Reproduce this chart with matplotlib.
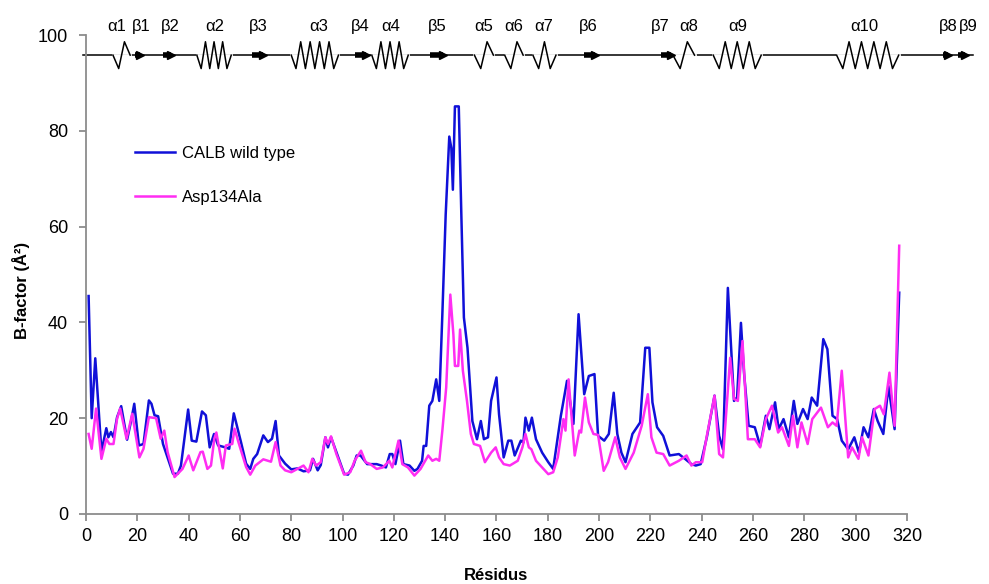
import numpy as np
import matplotlib
matplotlib.use('Agg')
import matplotlib.pyplot as plt

plt.rcParams['font.family'] = ['Liberation Sans', 'DejaVu Sans']

# B-factor per residue
res_wt = [1, 2.2, 3.6, 6, 7.9, 8.7, 9.7, 10.7, 12.1, 13.7, 16, 17.6, 18.8, 20.6, 22.4,
          24.5, 25.5, 26.7, 28.1, 30, 33.9, 35.8, 37, 39.8, 41.2, 43, 45.2, 46.7, 48.2,
          49.9, 51.5, 54.3, 55.8, 57.6, 59.4, 60.4, 62.4, 64, 65.2, 66.7, 69.1, 70.9,
          72.5, 73.9, 75.2, 77.6, 80, 82.4, 84.8, 87.3, 88.5, 90.3, 91.5, 93.3, 94.3,
          95.5, 97.6, 100.6, 102.1, 104.2, 105.5, 107, 108, 109.6, 113.3, 115.1, 116.9,
          118.4, 119.4, 120.6, 122.4, 123.7, 126.1, 128, 129.2, 131, 131.6, 132.6, 133.8,
          135, 136.5, 137.7, 138.9, 140.2, 141.6, 142.4, 143, 143.8, 145.3, 146.3, 147.3,
          148.7, 150.6, 152.4, 153.9, 155.1, 156.7, 157.9, 160, 161, 162.8, 164.6, 165.8,
          167.1, 169.5, 170.5, 171.3, 172.6, 173.8, 175.4, 177.8, 180.2, 182.1, 185.1,
          187.5, 190, 192, 194.2, 196, 198.2, 199.6, 202, 203.8, 205.7, 207.1, 208.7,
          210.3, 213, 216, 218, 219.6, 220.8, 222.6, 225, 227.5, 231.1, 233.5, 236, 237.7,
          239.6, 242, 245, 246.8, 248.3, 250.2, 252.6, 253.8, 255.3, 256.5, 258.3, 260.7,
          262.8, 265, 266.4, 268.6, 270, 271.9, 274, 275.9, 277.3, 279.5, 281.3, 282.9,
          285, 287.4, 289, 291, 292.8, 294.6, 297.1, 299.5, 301.3, 303.1, 305, 307.1,
          308.6, 310.8, 312.8, 315.2, 317]
bf_wt = [45.5, 20, 32.5, 13, 17.9, 16, 17.1, 16, 20.2, 22.5, 15.5, 19.5, 23, 14.3, 14.6,
         23.7, 23, 20.6, 20.4, 14.6, 8.4, 8.4, 10.1, 21.8, 15.3, 15.1, 21.4, 20.6, 13.9,
         16.7, 14.3, 13.9, 13.6, 21, 17.1, 15, 10.5, 9.4, 11.5, 12.5, 16.4, 15,
         15.7, 19.4, 12.2, 10.5, 9.3, 9.5, 8.9, 9.1, 11.5, 9.1, 10.2, 16, 13.9,
         16, 12.9, 8.4, 8.2, 10.1, 12.2, 12.2, 11.5, 10.4, 10.4, 10.1, 9.7,
         12.5, 12.5, 10.4, 15.3, 10.4, 10.1, 9, 9.4, 11.1, 14.2, 14.2, 22.6,
         23.6, 28.1, 23.6, 41.7, 62.5, 78.8, 76.4, 67.7, 85.1, 85.1, 62.5, 41,
         34.7, 19.4, 15.6, 19.4, 15.6, 16, 23.6, 28.5, 20.8, 11.8, 15.3, 15.3,
         12.2, 15.3, 14.9, 20.1, 17.4, 20.1, 15.6, 12.8, 10.8, 9.4, 20.5,
         27.8, 18.8, 41.7, 25, 28.8, 29.2, 16.3, 15.3, 16.7, 25.3, 16.7, 12.8,
         10.8, 16.7, 19.1, 34.7, 34.7, 23.3, 18.1, 16.3, 12.2, 12.5, 11.5, 10.4, 10.1,
         10.4, 16, 24.7, 16.3, 13.5, 47.2, 23.6, 24.3, 39.9, 29.5, 18.4, 18.1,
         14.2, 20.5, 17.7, 23.3, 17.7, 19.8, 16, 23.6, 18.8, 21.9, 19.8, 24.3,
         22.6, 36.5, 34.4, 20.5, 19.8, 15.3, 13.5, 16, 12.8, 18.1, 16, 21.9,
         19.4, 16.7, 26.7, 17.7, 46.2]

res_mut = [1, 2.2, 3.9, 6, 7.9, 9.1, 10.7, 12.1, 13.3, 15.8, 18, 20.8, 22.4, 24.5, 27.3,
           29.1, 30.5, 31.8, 34.5, 37.6, 40, 41.8, 44.6, 45.5, 47.3, 48.7, 50, 50.8, 53.3,
           54.5, 57, 57.9, 59.4, 62.4, 64, 66, 69.1, 72.1, 73.9, 75.8, 77.6, 80, 82.4,
           84.8, 86.7, 88.2, 89.7, 91.5, 93.3, 94.3, 95.5, 97.6, 100.6, 103, 104.7, 107.2,
           109, 110.8, 113.3, 115.7, 118.2, 119.4, 121.8, 123.3, 125.5, 128, 130.4, 133.4,
           135, 136.5, 137.7, 138.9, 140.4, 142, 143.2, 143.8, 145.1, 145.8, 146.9, 148.5,
           150, 151.2, 153.6, 155.5, 157.9, 159.7, 161, 162.8, 165.2, 168.3, 170.1, 171.3,
           172.6, 173.6, 175.4, 177.8, 180.2, 182.1, 183.9, 186.1, 186.9, 188.1, 190.5,
           192.3, 193, 194.5, 196, 197.8, 199.6, 201.8, 203.5, 206.3, 208.1, 210.3, 213.5,
           216.6, 219, 220.4, 222.4, 225, 227.5, 231.1, 234.1, 236, 237.7, 240.2, 242, 245,
           246.8, 248.3, 251.1, 252.6, 254.1, 255.9, 258, 260.7, 262.8, 265, 267.4, 269.8,
           271.3, 274, 275.6, 277.3, 278.9, 281.3, 283.1, 286.5, 289.2, 291, 292.6, 294.6,
           297.1, 298.6, 301.1, 302.5, 305, 307.4, 309.5, 311, 313.2, 315.2, 317]
bf_mut = [16.7, 13.6, 22, 11.5, 15.7, 14.6, 14.6, 19.9, 22, 15.7, 20.9, 11.8, 13.6, 20.2, 20,
          15.7, 17.4, 12.9, 7.7, 9.4, 12.2, 9.1, 12.9, 13, 9.4, 10.1, 15.7, 17, 9.5,
          14.3, 14.6, 17.8, 15, 9.8, 8.2, 10.1, 11.4, 10.9, 15, 10.1, 9.1, 8.7, 9.4,
          10.1, 8.7, 11.5, 10.1, 10.8, 16, 14.6, 16.2, 12.5, 8.2, 8.7, 11.1, 13.2,
          10.8, 10.4, 9.4, 9.7, 11.1, 9.7, 15.3, 10.4, 9.7, 8, 9.4, 12.2,
          11.1, 11.5, 11.1, 17.4, 26.4, 45.8, 37.5, 30.9, 30.9, 38.5, 29.9, 23.6,
          16.7, 14.6, 14.2, 10.8, 12.8, 13.9, 11.8, 10.4, 10.1, 11.1, 13.9, 16.7,
          13.9, 13.5, 11.1, 9.7, 8.3, 8.7, 11.8, 19.8, 17.4, 28.1, 12.2,
          17.4, 17, 24.3, 19.1, 16.7, 16.5, 9, 10.8, 16, 11.8, 9.4, 12.8,
          18.4, 25, 16, 12.8, 12.5, 10.1, 11.1, 12.2, 10.1, 10.8, 10.8, 16.3, 24.7,
          12.5, 11.8, 32.6, 24, 23.6, 36.1, 15.6, 15.6, 13.9, 19.8, 22.6, 17,
          18.1, 14.2, 20.5, 13.9, 19.1, 14.6, 19.8, 22.2, 18.1, 19.1, 18.4, 29.9,
          11.8, 13.9, 11.5, 16, 12.2, 21.9, 22.6, 20.8, 29.5, 18.4, 56]

# secondary structure strip (drawn on a residue-like scale, runs past 320)
topo_y = 95.8
topo_x0, topo_x1 = -1.2, 345.8
helix_start = [10.5, 43.2, 80, 111.4, 151.4, 163.2, 174.2, 228.8, 244.5, 292.6]
helix_end = [17.2, 56.6, 98.4, 125.6, 158.8, 170.4, 183.2, 237.2, 263.2, 316.8]
helix_ext = [2, 7, 9, 7, 2, 2, 3, 2, 7, 9]
strand_start = [19.1, 30, 64.8, 105, 134.2, 194, 224, 334, 340]
strand_end = [22.2, 34, 69.9, 110, 140.1, 199.4, 229, 337.2, 343.8]
ss_labels = ['α1', 'β1', 'β2', 'α2', 'β3', 'α3', 'β4', 'α4', 'β5', 'α5', 'α6', 'α7',
             'β6', 'β7', 'α8', 'α9', 'α10', 'β8', 'β9']
ss_label_x = [12, 21.7, 32.8, 50.3, 67.1, 90.5, 106.9, 118.6, 136.9, 154.9, 166.6, 178.3,
              195.9, 224, 234.9, 254, 303.2, 336, 343.8]

fig = plt.figure(figsize=(9.89, 5.84), dpi=100)
ax = fig.add_axes([0.087, 0.12, 0.83, 0.82])

ax.plot(res_wt, bf_wt, color='#1010d8', lw=1.8, label='CALB wild type')
ax.plot(res_mut, bf_mut, color='#ff2df2', lw=1.8, label='Asp134Ala')

# topology
ax.plot([topo_x0, topo_x1], [topo_y, topo_y], color='k', lw=1.1, clip_on=False)
amp = 2.8
for s, e, n in zip(helix_start, helix_end, helix_ext):
    xs = np.linspace(s, e, n + 2)
    ys = [topo_y] + [topo_y - amp if i % 2 == 0 else topo_y + amp for i in range(n)] + [topo_y]
    ax.plot([s, e], [topo_y, topo_y], color='white', lw=2.0, clip_on=False, zorder=2)
    ax.plot(xs, ys, color='k', lw=1.1, clip_on=False, zorder=3)
for s, e in zip(strand_start, strand_end):
    ax.plot([s, e - 1], [topo_y, topo_y], color='k', lw=4, solid_capstyle='butt',
            clip_on=False, zorder=3)
    ax.plot(e - 1, topo_y, marker='>', ms=6, color='k', clip_on=False, zorder=3)
for lab, x in zip(ss_labels, ss_label_x):
    ax.text(x, 101.7, lab, ha='center', va='center', fontsize=12, clip_on=False)

ax.set_xlim(0, 320)
ax.set_ylim(0, 100)
ax.set_xticks(np.arange(0, 321, 20))
ax.set_yticks(np.arange(0, 101, 20))
for sp in ['top', 'right']:
    ax.spines[sp].set_visible(False)
for sp in ['left', 'bottom']:
    ax.spines[sp].set_color('#8c8c8c')
    ax.spines[sp].set_linewidth(1.3)
ax.tick_params(axis='both', colors='#8c8c8c', labelcolor='black', labelsize=13,
               length=5, width=1.3, direction='out')
ax.tick_params(axis='x', pad=5)
ax.tick_params(axis='y', pad=8)

ax.set_xlabel('Résidus', fontsize=12, fontweight='bold')
ax.set_ylabel('B-factor (Å²)', fontsize=12, fontweight='bold')
ax.xaxis.set_label_coords(0.5, -0.112)
ax.yaxis.set_label_coords(-0.068, 0.466)

ax.legend(loc='upper left', bbox_to_anchor=(0.06, 0.768), frameon=False, fontsize=12,
          handlelength=2.4, handletextpad=0.4, labelspacing=1.75, borderpad=0,
          borderaxespad=0)

fig.savefig('out.png', dpi=100)
